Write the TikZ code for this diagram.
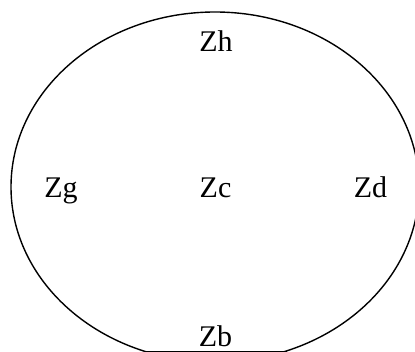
\documentclass[tikz,border=0pt]{standalone}
\usepackage{fontspec}
\setmainfont{Liberation Serif}
\begin{document}
\begin{tikzpicture}[x=1pt,y=-1pt,
  lbl/.style={inner sep=0pt,anchor=base,font=\fontsize{30}{30}\selectfont},
  outline/.style={draw=black,line width=1.4pt}]
\useasboundingbox (0,0) rectangle (415,352);
\begin{scope}
\clip (0,0) rectangle (415,351.3);
\draw[outline] (215,187) ellipse [x radius=204pt, y radius=175pt];
\end{scope}
\coordinate (bl) at (146,351.3);
\coordinate (br) at (287,351.3);
\draw[outline] (bl) -- (br);
\node[lbl] (zh) at (216,52) {Zh};
\node[lbl] (zg) at (61,198) {Zg};
\node[lbl] (zc) at (215.5,198) {Zc};
\node[lbl] (zd) at (370.5,198) {Zd};
\node[lbl] (zb) at (215.5,346.5) {Zb};
\end{tikzpicture}
\end{document}
